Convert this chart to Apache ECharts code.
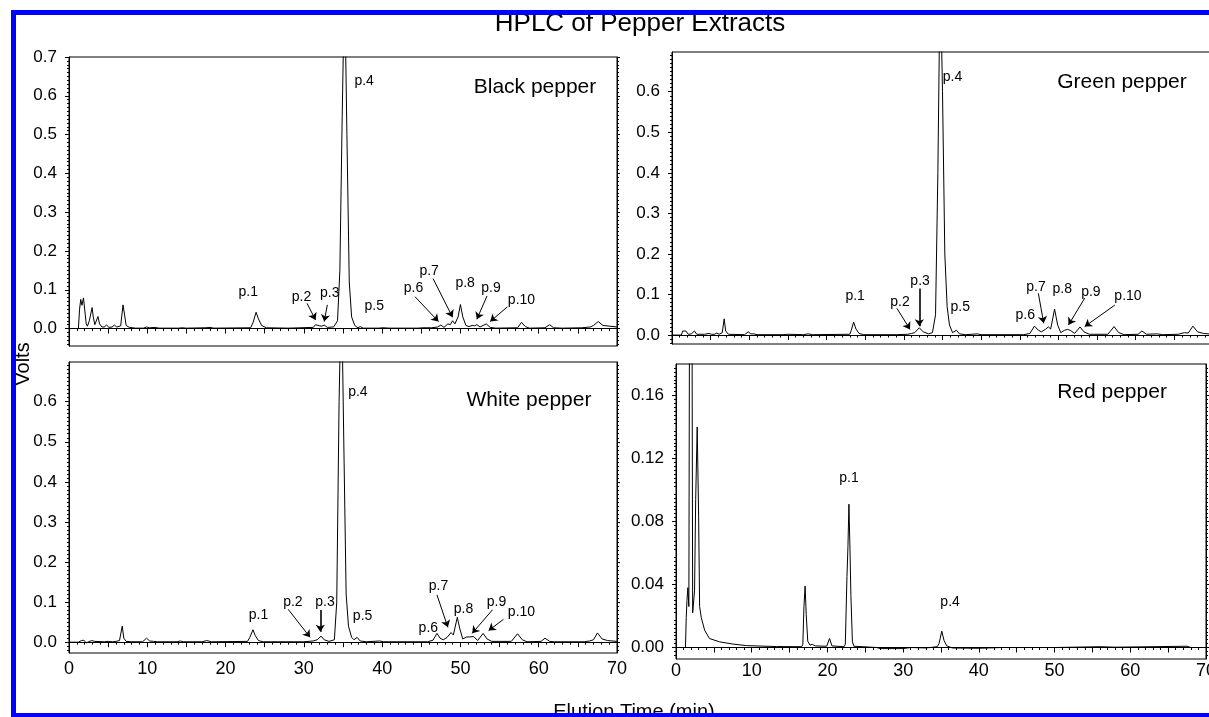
<!DOCTYPE html>
<html>
<head>
<meta charset="utf-8">
<title>HPLC of Pepper Extracts</title>
<script src="https://cdn.jsdelivr.net/npm/echarts@6/dist/echarts.min.js"></script>
<style>
html, body { margin: 0; padding: 0; background: #fff; }
#myChart { width: 1209px; height: 717px; }
</style>
</head>
<body>
<div id="myChart"></div>
<script>
// [elution time (min), signal (V)]
var blackPepper = [
  [0, 0], [1.2, 0], [1.35, 0.05], [1.5, 0.075], [1.65, 0.06], [1.85, 0.079], [2.0, 0.05], [2.2, 0.012], [2.35, 0.006],
  [2.6, 0.02], [2.95, 0.054], [3.1, 0.03], [3.3, 0.01], [3.5, 0.013], [3.7, 0.031], [3.9, 0.012], [4.2, 0.004],
  [4.5, 0.004], [4.8, 0.009], [5.1, 0.003], [5.5, 0.004], [5.8, 0.009], [6.1, 0.004], [6.6, 0.007], [6.9, 0.061],
  [7.1, 0.035], [7.3, 0.008], [7.7, 0.003], [8.5, 0.001], [9.5, 0.001], [9.9, 0.004], [10.3, 0.002], [11, 0.003],
  [11.5, 0.001], [14, 0.001], [14.4, 0.002], [15, 0.001], [17.5, 0.002], [18, 0.003], [18.5, 0.001], [23.2, 0.002],
  [23.5, 0.015], [23.9, 0.042], [24.2, 0.025], [24.6, 0.008], [25.2, 0.002], [28, 0.001], [31.2, 0.003], [31.5, 0.01],
  [31.7, 0.015], [32.0, 0.007], [32.3, 0.006], [32.6, 0.009], [33.0, 0.003], [33.8, 0.004], [34.3, 0.02], [34.6, 0.15],
  [34.9, 0.55], [35.2, 0.9], [35.5, 0.5], [35.8, 0.12], [36.1, 0.03], [36.5, 0.008], [36.9, 0.002], [37.2, 0.005],
  [37.6, 0.001], [39.5, 0.001], [40.1, 0.002], [41, 0.001], [44.5, 0.001], [45.2, 0.002], [46.3, 0.002], [47.1, 0.004],
  [47.5, 0.009], [47.9, 0.003], [48.4, 0.012], [48.7, 0.01], [49.0, 0.02], [49.3, 0.012], [49.7, 0.03], [50.0, 0.062],
  [50.3, 0.03], [50.7, 0.008], [51.1, 0.005], [51.5, 0.008], [51.8, 0.007], [52.1, 0.01], [52.5, 0.004], [53.3, 0.012],
  [53.8, 0.003], [54.5, 0.001], [57.3, 0.002], [57.8, 0.016], [58.3, 0.005], [58.8, 0.001], [60.8, 0.002], [61.4, 0.01],
  [61.9, 0.002], [63, 0.001], [65.5, 0.002], [66.6, 0.004], [67.0, 0.008], [67.6, 0.018], [68.2, 0.008], [70, 0.004]
];
var greenPepper = [
  [0, 0], [1.2, 0], [1.4, 0.01], [1.6, 0.011], [1.8, 0.01], [2.1, 0.002], [2.5, 0.003], [2.9, 0.01], [3.2, 0.002],
  [4.2, 0.002], [4.8, 0.004], [5.1, 0.002], [5.5, 0.002], [5.8, 0.005], [6.1, 0.002], [6.5, 0.006], [6.75, 0.04],
  [6.95, 0.01], [7.3, 0.002], [9.4, 0.001], [9.85, 0.008], [10.2, 0.003], [10.6, 0.003], [11, 0.001], [14.5, 0.001],
  [15, 0.002], [17, 0.001], [17.6, 0.003], [18.2, 0.001], [23.0, 0.002], [23.2, 0.012], [23.5, 0.032], [23.8, 0.015],
  [24.2, 0.004], [24.8, 0.001], [29, 0.001], [30.5, 0.002], [31.0, 0.004], [31.4, 0.006], [32.0, 0.018], [32.5, 0.008],
  [33.2, 0.003], [33.7, 0.006], [34.1, 0.05], [34.4, 0.4], [34.7, 0.9], [35.0, 0.6], [35.3, 0.2], [35.6, 0.07],
  [35.9, 0.025], [36.3, 0.006], [36.8, 0.012], [37.2, 0.003], [38, 0.001], [39.5, 0.003], [40, 0.001], [45.5, 0.001],
  [46.3, 0.004], [46.9, 0.022], [47.4, 0.012], [47.8, 0.008], [48.3, 0.014], [48.7, 0.02], [49.0, 0.015], [49.5, 0.064],
  [49.9, 0.025], [50.3, 0.006], [50.8, 0.012], [51.2, 0.014], [51.6, 0.011], [52.1, 0.004], [52.8, 0.02], [53.3, 0.008],
  [54, 0.002], [56.4, 0.002], [57.2, 0.021], [57.8, 0.006], [58.5, 0.001], [60.3, 0.002], [60.8, 0.01], [61.4, 0.002],
  [62.8, 0.003], [63.5, 0.001], [65.5, 0.002], [66.3, 0.006], [66.8, 0.005], [67.4, 0.022], [68.0, 0.008], [68.8, 0.004],
  [70, 0.002]
];
var whitePepper = [
  [0, 0], [1.2, 0], [1.6, 0.004], [1.9, 0.005], [2.2, -0.002], [2.5, 0.001], [2.9, 0.004], [3.3, 0.002], [4.5, 0.001],
  [5.0, 0.002], [5.6, 0.001], [6.0, 0.002], [6.45, 0.004], [6.8, 0.04], [7.0, 0.01], [7.3, 0.002], [8, 0.001],
  [9.4, 0.001], [9.9, 0.01], [10.3, 0.003], [10.8, 0.002], [11.3, 0.001], [13.8, 0.001], [14.2, 0.003], [14.6, 0.001],
  [17, 0.001], [17.6, 0.004], [18.2, 0.001], [22.8, 0.002], [23.1, 0.012], [23.5, 0.031], [23.8, 0.016], [24.2, 0.004],
  [24.8, 0.001], [30, 0.001], [31.2, 0.003], [31.7, 0.006], [32.2, 0.015], [32.6, 0.006], [33.2, 0.002], [33.9, 0.006],
  [34.2, 0.1], [34.5, 0.6], [34.8, 0.9], [35.1, 0.5], [35.4, 0.12], [35.7, 0.04], [36.1, 0.012], [36.4, 0.006],
  [36.8, 0.012], [37.2, 0.003], [38, 0.001], [39.7, 0.003], [40.2, 0.001], [45.8, 0.001], [46.5, 0.005], [47.0, 0.022],
  [47.4, 0.01], [47.8, 0.006], [48.3, 0.012], [48.8, 0.024], [49.1, 0.018], [49.6, 0.062], [49.9, 0.035], [50.3, 0.008],
  [50.8, 0.013], [51.2, 0.013], [51.7, 0.014], [52.2, 0.004], [52.9, 0.022], [53.4, 0.008], [54, 0.002], [56.5, 0.002],
  [57.3, 0.021], [57.9, 0.006], [58.5, 0.001], [60.3, 0.002], [60.8, 0.01], [61.4, 0.002], [62, 0.001], [65.8, 0.001],
  [66.5, 0.003], [67.0, 0.006], [67.5, 0.023], [68.1, 0.008], [68.8, 0.004], [70, 0.002]
];
var redPepper = [
  [0, 0], [1.25, 0], [1.35, 0.019], [1.45, 0.03], [1.57, 0.038], [1.7, 0.026], [1.95, 0.6], [2.2, 0.022], [2.45, 0.036],
  [2.6, 0.094], [2.8, 0.14], [2.99, 0.083], [3.12, 0.026], [3.34, 0.019], [3.78, 0.011], [4.42, 0.0057], [5.75, 0.0036],
  [7.5, 0.0022], [9.3, 0.0012], [13.3, 0.0006], [16.6, 0.0005], [16.75, 0.002], [16.9, 0.026], [17.05, 0.039],
  [17.2, 0.021], [17.4, 0.004], [17.7, 0.0015], [18.0, 0.002], [18.4, 0.001], [19.9, 0.0008], [20.28, 0.0057],
  [20.6, 0.001], [22.2, 0.0005], [22.36, 0.002], [22.58, 0.045], [22.71, 0.064], [22.84, 0.091], [22.98, 0.062],
  [23.1, 0.033], [23.3, 0.0036], [23.5, 0.0008], [26.5, 0], [27, -0.0007], [30, -0.0007], [31, 0], [33, -0.0003],
  [34.5, 0.0005], [34.74, 0.0025], [35.1, 0.0104], [35.4, 0.0045], [35.76, 0.001], [36.5, -0.0003], [40, -0.0005],
  [43, 0], [50, 0], [56, 0.0005], [58, 0.0002], [67.5, 0.0008], [68, 0], [70, 0]
];

var timeTicks = [0, 10, 20, 30, 40, 50, 60, 70];
var voltTicks = [0, 0.1, 0.2, 0.3, 0.4, 0.5, 0.6, 0.7];
var voltTicksLow = [0, 0.1, 0.2, 0.3, 0.4, 0.5, 0.6];
var redTicks = [0, 0.04, 0.08, 0.12, 0.16];

// peak labels [text, time, volts] and arrows [fromTime, fromVolts, toTime, toVolts]
var blackNotes = [['p.1', 22.9, 0.095], ['p.2', 29.7, 0.08], ['p.3', 33.3, 0.092], ['p.4', 37.7, 0.638], ['p.5', 39.0, 0.058],
  ['p.6', 44.0, 0.104], ['p.7', 46.0, 0.149], ['p.8', 50.6, 0.117], ['p.9', 53.9, 0.105], ['p.10', 57.8, 0.072]];
var blackArrows = [[30.4, 0.065, 31.5, 0.022], [33.0, 0.061, 32.6, 0.018], [44.2, 0.082, 47.2, 0.018],
  [46.5, 0.129, 49.0, 0.029], [53.4, 0.084, 52.1, 0.024], [56.0, 0.056, 53.8, 0.018]];
var greenNotes = [['p.1', 23.7, 0.095], ['p.2', 29.5, 0.082], ['p.3', 32.1, 0.132], ['p.4', 36.3, 0.637], ['p.5', 37.3, 0.07],
  ['p.6', 45.7, 0.05], ['p.7', 47.1, 0.119], ['p.8', 50.5, 0.113], ['p.9', 54.2, 0.107], ['p.10', 59.0, 0.096]];
var greenArrows = [[29.1, 0.066, 30.8, 0.014], [32.0, 0.115, 32.0, 0.022], [47.4, 0.103, 48.1, 0.029],
  [53.4, 0.091, 51.3, 0.025], [57.3, 0.074, 53.4, 0.021]];
var whiteNotes = [['p.1', 24.2, 0.068], ['p.2', 28.6, 0.101], ['p.3', 32.7, 0.1], ['p.4', 36.9, 0.625], ['p.5', 37.5, 0.064],
  ['p.6', 45.9, 0.035], ['p.7', 47.2, 0.14], ['p.8', 50.4, 0.082], ['p.9', 54.6, 0.101], ['p.10', 57.8, 0.074]];
var whiteArrows = [[28.0, 0.082, 30.8, 0.012], [32.1, 0.08, 32.1, 0.026], [47.0, 0.118, 48.4, 0.037],
  [54.1, 0.081, 51.5, 0.022], [55.5, 0.057, 53.6, 0.029]];
var redNotes = [['p.1', 22.85, 0.1076], ['p.4', 36.2, 0.0288]];
var redArrows = [];

var font = 'Liberation Sans, Arial, sans-serif';

function xAxisFor(i, withLabels) {
  return {
    type: 'value', gridIndex: i, min: 0, max: 70, interval: 5,
    axisLine: { show: true, lineStyle: { color: '#000', width: 1 } },
    axisTick: { show: true, length: 5, lineStyle: { color: '#000' } },
    minorTick: { show: true, splitNumber: 5, length: 2.5, lineStyle: { color: '#000' } },
    splitLine: { show: false },
    axisLabel: withLabels ? {
      show: true, customValues: timeTicks, margin: i === 3 ? 3 : 7,
      color: '#000', fontSize: 18, fontFamily: font,
      formatter: function (v) { return String(v); }
    } : { show: false }
  };
}

function yAxisFor(i, pos, min, max, split, minor, ticks, digits) {
  return {
    type: 'value', gridIndex: i, position: pos, min: min, max: max, splitNumber: split,
    axisLine: { show: true, lineStyle: { color: '#000', width: 1 } },
    axisTick: { show: true, customValues: ticks, length: pos === 'left' ? 4 : 3, lineStyle: { color: '#000' } },
    minorTick: { show: true, splitNumber: minor, length: 2, lineStyle: { color: '#000' } },
    splitLine: { show: false },
    axisLabel: pos === 'left' ? {
      show: true, customValues: ticks, margin: 12, color: '#000', fontSize: 17, fontFamily: font,
      formatter: function (v) { return v.toFixed(digits); }
    } : { show: false }
  };
}

function trace(i, data, notes, arrows) {
  return {
    type: 'line', xAxisIndex: i, yAxisIndex: i, data: data,
    showSymbol: false, symbol: 'none', clip: true,
    lineStyle: { color: '#000', width: 1 },
    markPoint: {
      symbol: 'circle', symbolSize: 0, silent: true,
      label: { show: true, position: 'inside', color: '#000', fontSize: 14, fontFamily: font, formatter: '{b}' },
      data: notes.map(function (n) { return { name: n[0], coord: [n[1], n[2]] }; })
    },
    markLine: {
      silent: true, symbol: ['none', 'arrow'], symbolSize: 7,
      label: { show: false },
      lineStyle: { color: '#000', width: 1, type: 'solid' },
      data: arrows.map(function (a) {
        var w = (a[0] === a[2]) ? 1.6 : 1;
        return [{ coord: [a[0], a[1]], lineStyle: { width: w } }, { coord: [a[2], a[3]] }];
      })
    }
  };
}

function panelName(text, x, y) {
  return {
    type: 'text', x: x, y: y, z: 10,
    style: { text: text, fill: '#000', font: '21px ' + font, align: 'center', verticalAlign: 'middle' }
  };
}

function gridAt(left, top, width, height) {
  return {
    left: left, top: top, width: width, height: height,
    outerBoundsMode: 'none', containLabel: false,
    show: true, borderColor: '#000', borderWidth: 1
  };
}

function draw() {
  var myChart = echarts.init(document.getElementById('myChart'));
  var option = {
    animation: false,
    backgroundColor: '#fff',
    grid: [
      gridAt(69, 57, 548, 289),
      gridAt(672, 52, 541, 292),
      gridAt(69, 362, 548, 291),
      gridAt(676, 364, 530, 295)
    ],
    xAxis: [xAxisFor(0, false), xAxisFor(1, false), xAxisFor(2, true), xAxisFor(3, true)],
    yAxis: [
      yAxisFor(0, 'left', -0.045, 0.7, 7, 10, voltTicks, 1),
      yAxisFor(1, 'left', -0.022, 0.698, 7, 10, voltTicksLow, 1),
      yAxisFor(2, 'left', -0.027, 0.699, 7, 10, voltTicksLow, 1),
      yAxisFor(3, 'left', -0.0073, 0.18, 9, 8, redTicks, 2),
      yAxisFor(0, 'right', -0.045, 0.7, 7, 10, voltTicks, 1),
      yAxisFor(1, 'right', -0.022, 0.698, 7, 10, voltTicksLow, 1),
      yAxisFor(2, 'right', -0.027, 0.699, 7, 10, voltTicksLow, 1),
      yAxisFor(3, 'right', -0.0073, 0.18, 9, 8, redTicks, 2)
    ],
    series: [
      trace(0, blackPepper, blackNotes, blackArrows),
      trace(1, greenPepper, greenNotes, greenArrows),
      trace(2, whitePepper, whiteNotes, whiteArrows),
      trace(3, redPepper, redNotes, redArrows)
    ],
    graphic: [
      { type: 'text', x: 640, y: 23.5, z: 5,
        style: { text: 'HPLC of Pepper Extracts', fill: '#000', font: '26px ' + font, align: 'center', verticalAlign: 'middle' } },
      { type: 'text', x: 634, y: 712, z: 5,
        style: { text: 'Elution Time (min)', fill: '#000', font: '20px ' + font, align: 'center', verticalAlign: 'middle' } },
      { type: 'text', x: 23, y: 364, z: 5, rotation: Math.PI / 2,
        style: { text: 'Volts', fill: '#000', font: '20px ' + font, align: 'center', verticalAlign: 'middle' } },
      panelName('Black pepper', 535, 87),
      panelName('Green pepper', 1122, 82),
      panelName('White pepper', 529, 400),
      panelName('Red pepper', 1112, 392),
      // blue frame round the figure
      { type: 'rect', z: 100, shape: { x: 11, y: 10, width: 1198, height: 5 }, style: { fill: '#0000ff' } },
      { type: 'rect', z: 100, shape: { x: 11, y: 10, width: 5, height: 707 }, style: { fill: '#0000ff' } },
      { type: 'rect', z: 100, shape: { x: 11, y: 713, width: 1198, height: 4 }, style: { fill: '#0000ff' } }
    ]
  };
  myChart.setOption(option);
  window.onresize = myChart.resize;
}
draw();
</script>
</body>
</html>
